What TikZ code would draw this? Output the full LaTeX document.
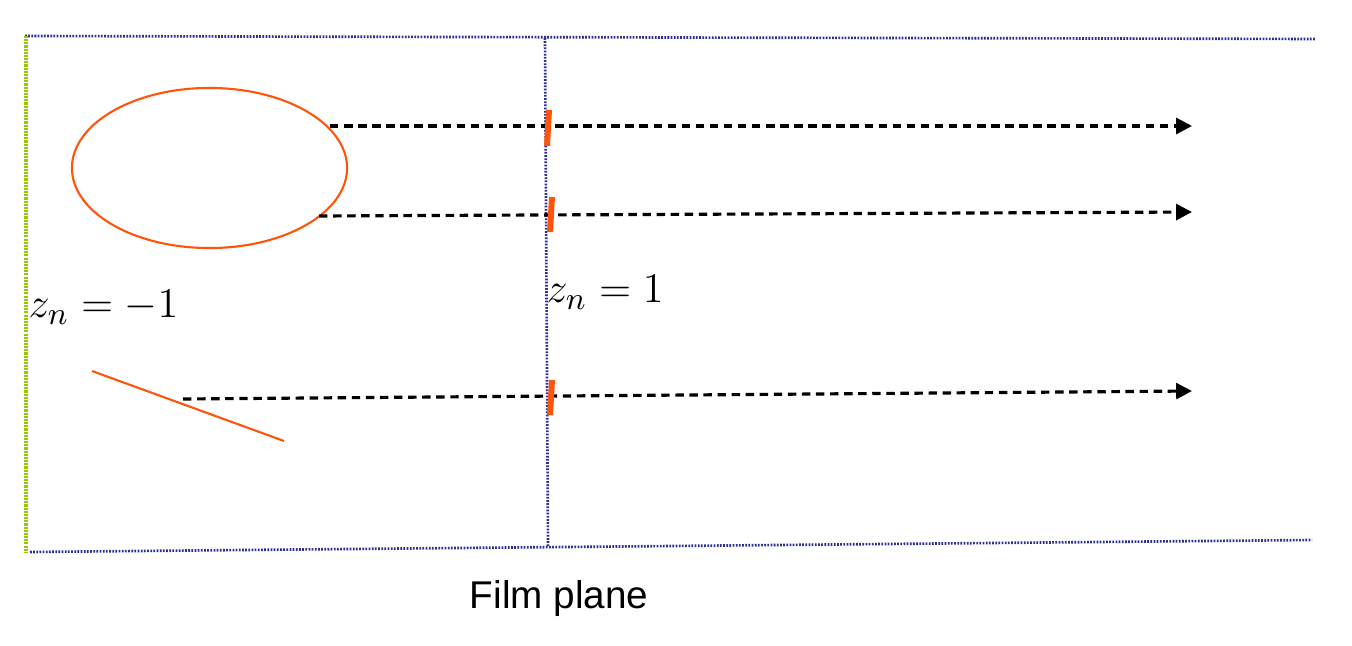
\documentclass[tikz,border=0pt]{standalone}
\usepackage{amsmath,amssymb}
\usepackage{fontspec}
\newfontfamily\labelfont{Liberation Sans}
\usetikzlibrary{arrows.meta,shapes.geometric}
\definecolor{planeblue}{RGB}{45,45,150}
\definecolor{leftgreen}{RGB}{150,200,0}
\definecolor{objorange}{RGB}{255,85,10}

\begin{document}
\begin{tikzpicture}[x=0.01cm,y=-0.01cm,
	plane/.style={draw=planeblue, line width=0.75pt, dash pattern=on 0.5pt off 0.4pt},
	ray/.style={line width=0.9pt, dash pattern=on 2.4pt off 1.6pt, -{Triangle[length=4.5pt,width=4.5pt]}},
	tick/.style={draw=objorange, line width=1.7pt},
	obj/.style={ellipse, draw=objorange, semithick, minimum width=2.75cm, minimum height=1.6cm, inner sep=0pt},
	zlab/.style={anchor=base west, inner sep=0pt, font=\fontsize{13.2}{15}\selectfont}]
		\useasboundingbox (0,0) rectangle (1352,646);
		\draw[plane] (25,36) -- (1316,39);
		\draw[plane] (30,552) -- (1312,540);
		\draw[plane] (545,38) -- (548,546);
		\draw[draw=leftgreen, line width=0.9pt, dash pattern=on 0.6pt off 0.3pt] (26,36) -- (26,552);
		\node[obj] (o1) at (209.5,168) {};
		\coordinate (s1) at (330,126);
		\coordinate (s2) at (319,216);
		\coordinate (s3) at (183,399);
		\coordinate (e1) at (1192,126);
		\coordinate (e2) at (1192,212);
		\coordinate (e3) at (1192,391);
		\coordinate (l1) at (92,371);
		\coordinate (l2) at (284,441);
		\draw[draw=objorange, semithick] (l1) -- (l2);
		\draw[ray] (s1) -- (e1);
		\draw[ray] (s2) -- (e2);
		\draw[ray] (s3) -- (e3);
		\draw[tick] (549,110) -- (547,146);
		\draw[tick] (552,197) -- (550,232);
		\draw[tick] (552,380) -- (550,415);
		\node[zlab] (zl) at (28,318) {$z_n=-1$};
		\node[zlab] (zr) at (546,303) {$z_n=1$};
		\node[font=\labelfont\fontsize{11}{13}\selectfont] (film) at (559,598) {Film plane};
	\end{tikzpicture}
\end{document}
